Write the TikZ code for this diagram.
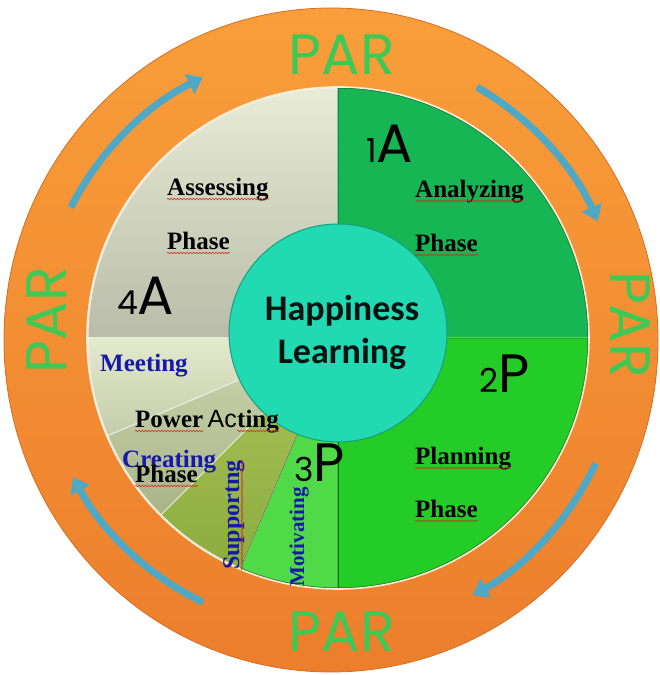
\documentclass[tikz,border=0pt]{standalone}
\usepackage{fontspec}
\setmainfont{Liberation Serif}
\newfontfamily\gothic{Poppins}
\newfontfamily\calib{Carlito}
\newfontfamily\arial{Liberation Sans}
\usetikzlibrary{arrows.meta, decorations.pathmorphing}
\definecolor{ringtop}{RGB}{249,158,58}
\definecolor{ringbot}{RGB}{236,126,44}
\definecolor{ringedge}{RGB}{212,110,36}
\definecolor{parink}{RGB}{62,200,86}
\definecolor{arrowblue}{RGB}{78,168,198}
\definecolor{analyze}{RGB}{22,182,84}
\definecolor{plan}{RGB}{36,204,40}
\definecolor{motiv}{RGB}{80,218,72}
\definecolor{supptop}{RGB}{170,196,92}
\definecolor{suppbot}{RGB}{140,172,62}
\definecolor{creattop}{RGB}{205,214,176}
\definecolor{creatbot}{RGB}{168,180,134}
\definecolor{meettop}{RGB}{228,234,204}
\definecolor{meetbot}{RGB}{196,204,170}
\definecolor{assesstop}{RGB}{232,236,214}
\definecolor{assessbot}{RGB}{184,188,168}
\definecolor{hubfill}{RGB}{34,218,178}
\definecolor{hubedge}{RGB}{24,158,128}
\definecolor{wordblue}{RGB}{22,24,168}
\definecolor{squiggle}{RGB}{212,44,30}

\begin{document}
\begin{tikzpicture}[x=1pt, y=1pt,
    ring/.style={top color=ringtop, bottom color=ringbot, draw=ringedge, line width=0.8pt},
    cyc/.style={draw=arrowblue, line width=7pt, -{Triangle[width=21pt, length=15pt]}},
    par/.style={font=\gothic\fontsize{57}{57}\selectfont, text=parink, inner sep=0pt},
    num/.style={anchor=base west, inner sep=0pt, font=\gothic, text=black},
    phase/.style={anchor=base west, inner sep=0pt, font=\fontsize{25}{30}\selectfont\bfseries, text=black},
    sub/.style={phase, text=wordblue},
    wavy/.style={draw=squiggle, line width=0.6pt, decorate,
                 decoration={snake, amplitude=0.7pt, segment length=3.2pt}},
    edge/.style={line width=1pt}
  ]
  \useasboundingbox (0,0) rectangle (660,675);
  \coordinate (O) at (331,335);
  \coordinate (C) at (338,337);
  \coordinate (H) at (338,342);
  \def\rin{250}

  % orange ring
  \shade[ring] (O) ellipse[x radius=327, y radius=332];

  % quadrants
  \shade[top color=assesstop, bottom color=assessbot, draw=white!80!assessbot, edge]
       (C) -- ++(90:\rin) arc[start angle=90, end angle=180, radius=\rin] -- cycle;
  \fill[analyze, draw=analyze!65!black, edge]
       (C) -- ++(0:\rin) arc[start angle=0, end angle=90, radius=\rin] -- cycle;
  \fill[plan, draw=plan!60!black, edge]
       (C) -- ++(270:\rin) arc[start angle=270, end angle=360, radius=\rin] -- cycle;
  \fill[motiv, draw=motiv!55!black, edge]
       (C) -- ++(247:\rin) arc[start angle=247, end angle=270, radius=\rin] -- cycle;
  \foreach \a/\b/\ct/\cb in {180/203/meettop/meetbot, 203/225/creattop/creatbot,
                             225/247/supptop/suppbot} {
      \shade[top color=\ct, bottom color=\cb, draw=white!75!\cb, edge]
           (C) -- ++(\a:\rin) arc[start angle=\a, end angle=\b, radius=\rin] -- cycle;
  }
  \draw[plan!80!white, edge] (C) -- ++(0:\rin);
  \draw[plan!55!black, edge] (C) -- ++(270:\rin);
  \draw[suppbot!60!black, line width=0.6pt] (C) -- ++(247:\rin);
  \draw[white!85!orange, line width=1.6pt] (C) circle[radius=\rin+1];

  % hub
  \fill[hubfill, draw=hubedge, line width=1pt] (H) circle[radius=109];
  \node[font=\calib\bfseries\fontsize{36}{43}\selectfont, align=center,
        text=black!85!teal] (hub) at (342,343) {Happiness\\Learning};

  % cycle arrows
  \draw[cyc] ([shift={(153:292)}]O) arc[start angle=153, end angle=116, radius=292];
  \draw[cyc] ([shift={(60:292)}]O) arc[start angle=60, end angle=24, radius=292];
  \draw[cyc] ([shift={(-25:292)}]O) arc[start angle=-25, end angle=-61, radius=292];
  \draw[cyc] ([shift={(244:292)}]O) arc[start angle=244, end angle=208, radius=292];

  % PAR labels
  \node[par] (parN) at (342,620) {PAR};
  \node[par] (parS) at (342,43) {PAR};
  \node[par, rotate=90] (parW) at (47,355) {PAR};
  \node[par, rotate=-90] (parE) at (630,350) {PAR};

  % step numbers
  \node[num] (n1A) at (366,512) {\fontsize{33}{33}\selectfont 1\fontsize{54}{54}\selectfont A};
  \node[num] (n2P) at (479,282) {\fontsize{33}{33}\selectfont 2\fontsize{54}{54}\selectfont P};
  \node[num] (n3P) at (294,193) {\fontsize{33}{33}\selectfont 3\fontsize{54}{54}\selectfont P};
  \node[num] (n4A) at (117,360) {\fontsize{33}{33}\selectfont 4\fontsize{54}{54}\selectfont A};

  % phase words
  \node[phase] (assess) at (167,479) {Assessing};
  \node[phase] (assessph) at (167,425) {Phase};
  \node[phase] (analyz) at (415,477) {Analyzing};
  \node[phase] (analyzph) at (415,423) {Phase};
  \node[phase] (plann) at (415,210) {Planning};
  \node[phase] (plannph) at (415,157) {Phase};

  % acting sectors
  \node[sub] (meet) at (100,303) {Meeting};
  \node[phase] (power) at (135,247) {Power};
  \node[phase, font=\arial\fontsize{25}{30}\selectfont] (ac) at ([xshift=4pt]power.base east) {Ac};
  \node[phase] (ting) at (ac.base east) {ting};
  \node[sub] (creat) at (122,207) {Creating};
  \node[phase] (creatph) at (135,192) {Phase};
  \node[sub, anchor=base, rotate=90, font=\fontsize{24}{28}\selectfont\bfseries] (supp) at (239,160) {Supportng};
  \node[sub, anchor=base, rotate=90, font=\fontsize{21}{25}\selectfont\bfseries] (motv) at (304,138) {Motivating};

  % spell marks
  \foreach \w in {assess, assessph, analyz, analyzph, plann, plannph, power, ting, creatph} {
      \draw[wavy] ([yshift=-3pt]\w.base west) -- ([yshift=-3pt]\w.base east);
  }
  \draw[wavy] ([xshift=3pt]supp.base west) -- ([xshift=3pt]supp.base east);
\end{tikzpicture}
\end{document}
